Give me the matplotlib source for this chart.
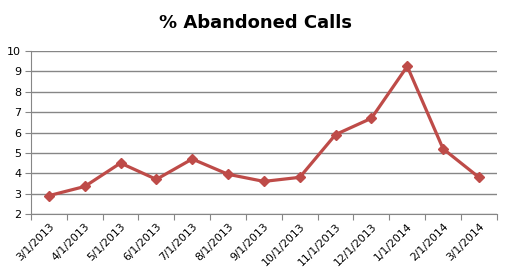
import matplotlib.pyplot as plt
import numpy as np

months = ["3/1/2013", "4/1/2013", "5/1/2013", "6/1/2013", "7/1/2013", "8/1/2013",
          "9/1/2013", "10/1/2013", "11/1/2013", "12/1/2013", "1/1/2014", "2/1/2014", "3/1/2014"]
abandoned = [2.9, 3.35, 4.5, 3.7, 4.7, 3.95, 3.6, 3.8, 5.9, 6.7, 9.25, 5.2, 3.8]

grid_color = "#868686"

fig = plt.figure(figsize=(5.07, 2.79), dpi=100)
ax = fig.add_axes([0.061, 0.233, 0.919, 0.584])

x = np.arange(len(months))
ax.plot(x, abandoned, color="#BE4B48", lw=2.3, marker="D", ms=5, zorder=3)

ax.set_ylim(2, 10)
ax.set_yticks(range(2, 11))
ax.set_xlim(-0.5, len(months) - 0.5)
ax.set_xticks(np.arange(-0.5, len(months)), minor=False)
ax.set_xticklabels([])
ax.set_xticks(x, minor=True)
ax.set_xticklabels(months, minor=True, rotation=45, ha="right", rotation_mode="anchor",
                   fontsize=7.8)
ax.tick_params(axis="x", which="minor", length=0, pad=5)
ax.tick_params(axis="x", which="major", length=4, color=grid_color)
ax.tick_params(axis="y", length=4, color=grid_color, labelsize=8, pad=3)

ax.grid(axis="y", color=grid_color, lw=1)
ax.set_axisbelow(True)
for s in ["top", "right"]:
    ax.spines[s].set_visible(False)
for s in ["left", "bottom"]:
    ax.spines[s].set_color(grid_color)

fig.suptitle("% Abandoned Calls", x=0.503, y=0.95, fontsize=13, fontweight="bold")

plt.savefig("out.png")
